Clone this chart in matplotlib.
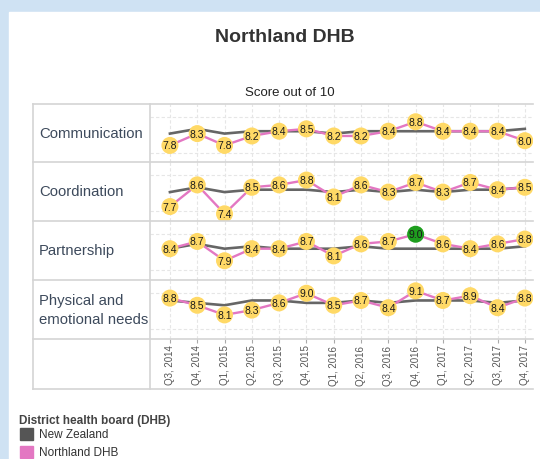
import numpy as np
import matplotlib.pyplot as plt
from matplotlib.lines import Line2D
from matplotlib.patches import Rectangle

plt.rcParams["font.family"] = ["Liberation Sans", "DejaVu Sans"]

# Data
quarters = ["Q3, 2014", "Q4, 2014", "Q1, 2015", "Q2, 2015", "Q3, 2015",
            "Q4, 2015", "Q1, 2016", "Q2, 2016", "Q3, 2016", "Q4, 2016",
            "Q1, 2017", "Q2, 2017", "Q3, 2017", "Q4, 2017"]
measures = ["Communication", "Coordination", "Partnership",
            "Physical and\nemotional needs"]

northland_comm = [7.8, 8.3, 7.8, 8.2, 8.4, 8.5, 8.2, 8.2, 8.4, 8.8, 8.4, 8.4, 8.4, 8.0]
northland_coord = [7.7, 8.6, 7.4, 8.5, 8.6, 8.8, 8.1, 8.6, 8.3, 8.7, 8.3, 8.7, 8.4, 8.5]
northland_partner = [8.4, 8.7, 7.9, 8.4, 8.4, 8.7, 8.1, 8.6, 8.7, 9.0, 8.6, 8.4, 8.6, 8.8]
northland_phys = [8.8, 8.5, 8.1, 8.3, 8.6, 9.0, 8.5, 8.7, 8.4, 9.1, 8.7, 8.9, 8.4, 8.8]

nz_comm = [8.3, 8.5, 8.3, 8.4, 8.4, 8.4, 8.3, 8.4, 8.4, 8.4, 8.4, 8.4, 8.4, 8.5]
nz_coord = [8.3, 8.5, 8.3, 8.4, 8.4, 8.4, 8.3, 8.4, 8.3, 8.4, 8.3, 8.4, 8.4, 8.5]
nz_partner = [8.4, 8.6, 8.4, 8.5, 8.4, 8.4, 8.4, 8.5, 8.4, 8.4, 8.4, 8.4, 8.4, 8.5]
nz_phys = [8.7, 8.6, 8.5, 8.7, 8.7, 8.6, 8.6, 8.7, 8.6, 8.7, 8.7, 8.7, 8.6, 8.7]

northland = [northland_comm, northland_coord, northland_partner, northland_phys]
nz = [nz_comm, nz_coord, nz_partner, nz_phys]
# significantly higher points (row, quarter index)
highlight = [(2, 9)]

W, H = 540, 460
fig = plt.figure(figsize=(W / 100, H / 100), dpi=100)


def fx(x):
    return x / W


def fy(y):
    return 1 - y / H


# blue frame
fig.patches.append(Rectangle((0, 0), 1, 1, transform=fig.transFigure,
                             color="#cfe2f3", zorder=-2))
fig.patches.append(Rectangle((fx(9), 0), 1, fy(13), transform=fig.transFigure,
                             color="white", zorder=-1))

fig.text(fx(285), fy(37), "Northland DHB", ha="center", va="center",
         fontsize=14, fontweight="bold", color="#333333")
fig.text(fx(290), fy(93), "Score out of 10", ha="center", va="center",
         fontsize=9.5, color="#222222")

# table lines
line_c = "#d4d4d4"
left, mid, right = 33, 150, 533
row_edges = [105, 163, 222, 281, 340, 390]
for y in row_edges:
    fig.add_artist(Line2D([fx(left), fx(right)], [fy(y), fy(y)], color=line_c, lw=1.2))
for x in [left, mid]:
    fig.add_artist(Line2D([fx(x), fx(x)], [fy(105), fy(390)], color=line_c, lw=1.2))

x = np.arange(len(quarters))
pink = "#e377c2"
grey = "#666666"
for i, name in enumerate(measures):
    top, bot = row_edges[i], row_edges[i + 1]
    ax = fig.add_axes([fx(mid), fy(bot), fx(right) - fx(mid), (bot - top) / H])
    ax.set_xlim(-0.73, 13.3)
    ax.set_ylim(7.1, 9.55)
    ax.patch.set_alpha(0)
    for s in ax.spines.values():
        s.set_visible(False)
    for v in x:
        ax.axvline(v, color="#e6e6e6", lw=0.8, ls=(0, (3, 2)), zorder=0)
    for v in [7.5, 9.0]:
        ax.axhline(v, color="#e6e6e6", lw=0.8, ls=(0, (3, 2)), zorder=0)
    ax.plot(x, nz[i], color=grey, lw=1.9, zorder=2)
    ax.plot(x, northland[i], color=pink, lw=1.7, zorder=3)
    cols = ["#1e9e1e" if (i, j) in highlight else "#ffd966" for j in x]
    ax.scatter(x, northland[i], s=150, c=cols, zorder=4, linewidths=0)
    for j, v in enumerate(northland[i]):
        ax.text(j, v, f"{v:.1f}", ha="center", va="center", fontsize=7.5,
                color="#1a1a1a", zorder=5)
    ax.set_yticks([])
    if i == len(measures) - 1:
        ax.set_xticks(x)
        ax.set_xticklabels(quarters, rotation=90, fontsize=7, color="#555555",
                           va="top")
        ax.tick_params(axis="x", length=3, color="#aaaaaa", pad=1)
    else:
        ax.set_xticks([])
    fig.text(fx(39), fy((top + bot) / 2), name, ha="left", va="center",
             fontsize=10.7, color="#3d4a5c", linespacing=1.4)

# legend
fig.text(fx(19), fy(421), "District health board (DHB)", ha="left", va="center",
         fontsize=8.5, fontweight="bold", color="#444444")
for k, (lab, c) in enumerate([("New Zealand", "#555555"), ("Northland DHB", pink)]):
    yc = 435 + k * 18
    fig.patches.append(Rectangle((fx(20), fy(yc + 6)), 13 / W, 12 / H,
                                 transform=fig.transFigure, color=c))
    fig.text(fx(39), fy(yc), lab, ha="left", va="center", fontsize=8.5,
             color="#333333")

fig.savefig("out.png", dpi=100)
